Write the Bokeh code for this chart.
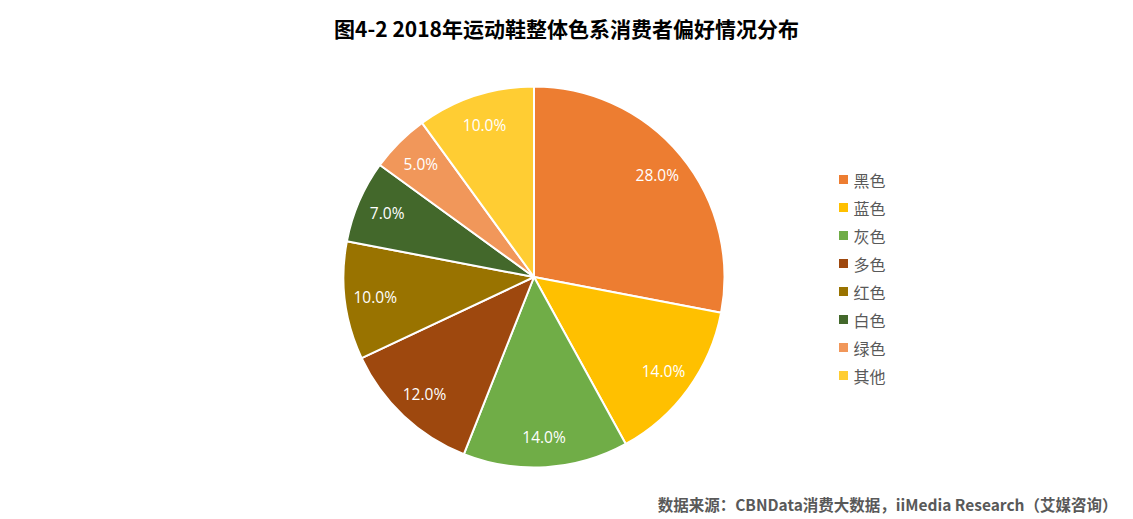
import math
from bokeh.plotting import figure
from bokeh.models import ColumnDataSource, Range1d, Label
from bokeh.core.properties import value
from bokeh.embed import file_html
from bokeh.resources import INLINE

categories = ["黑色", "蓝色", "灰色", "多色", "红色", "白色", "绿色", "其他"]
shares = [28.0, 14.0, 14.0, 12.0, 10.0, 7.0, 5.0, 10.0]
colors = ["#ED7D31", "#FFC000", "#70AD47", "#9E480E", "#997300", "#43682B", "#F1975A", "#FFCD33"]
title_text = "图4-2 2018年运动鞋整体色系消费者偏好情况分布"
source_text = "数据来源：CBNData消费大数据，iiMedia Research（艾媒咨询）"

W, H = 1133, 519
CX, CY, R = 533.5, H - 276.5, 190.5
LR = 0.84 * R

total = sum(shares)
starts, ends, lx, ly, labels = [], [], [], [], []
cum = 0.0
for s in shares:
    a0 = math.pi / 2 - 2 * math.pi * cum / total
    a1 = math.pi / 2 - 2 * math.pi * (cum + s) / total
    starts.append(a0)
    ends.append(a1)
    mid = (a0 + a1) / 2
    lx.append(CX + LR * math.cos(mid))
    ly.append(CY + LR * math.sin(mid))
    labels.append(f"{s:.1f}%")
    cum += s

src = ColumnDataSource(dict(start=starts, end=ends, color=colors, lx=lx, ly=ly, label=labels))

p = figure(width=W, height=H, output_backend="svg", toolbar_location=None,
           x_range=Range1d(0, W), y_range=Range1d(0, H), min_border=0)
p.axis.visible = False
p.grid.visible = False
p.outline_line_color = None
p.background_fill_color = "white"

p.wedge(x=CX, y=CY, radius=R, start_angle="end", end_angle="start", direction="anticlock",
        fill_color="color", line_color="white", line_width=2, source=src)
p.text(x="lx", y="ly", text="label", source=src, text_color="white",
       text_font=value("Open Sans"), text_font_size="15.5px",
       text_align="center", text_baseline="middle")

# legend
leg_x, leg_y0, leg_dy = 843, H - 179, 28
n = len(categories)
lsrc = ColumnDataSource(dict(x=[leg_x] * n, y=[leg_y0 - i * leg_dy for i in range(n)],
                             tx=[leg_x + 10] * n, cat=categories, color=colors))
p.scatter(x="x", y="y", marker="square", size=9, fill_color="color", line_color=None, source=lsrc)
p.text(x="tx", y="y", text="cat", source=lsrc, text_color="#595959",
       text_font=value("Noto Sans CJK SC"), text_font_size="16px",
       text_align="left", text_baseline="middle")

p.add_layout(Label(x=566, y=H - 27, text=title_text, text_font="Noto Sans CJK SC",
                   text_font_style="bold", text_font_size="21px", text_color="#000000",
                   text_align="center", text_baseline="middle"))
p.add_layout(Label(x=1117, y=H - 503, text=source_text, text_font="Noto Sans CJK SC",
                   text_font_style="bold", text_font_size="15.5px", text_color="#595959",
                   text_align="right", text_baseline="middle"))

open("out.html", "w").write(file_html(p, INLINE))
